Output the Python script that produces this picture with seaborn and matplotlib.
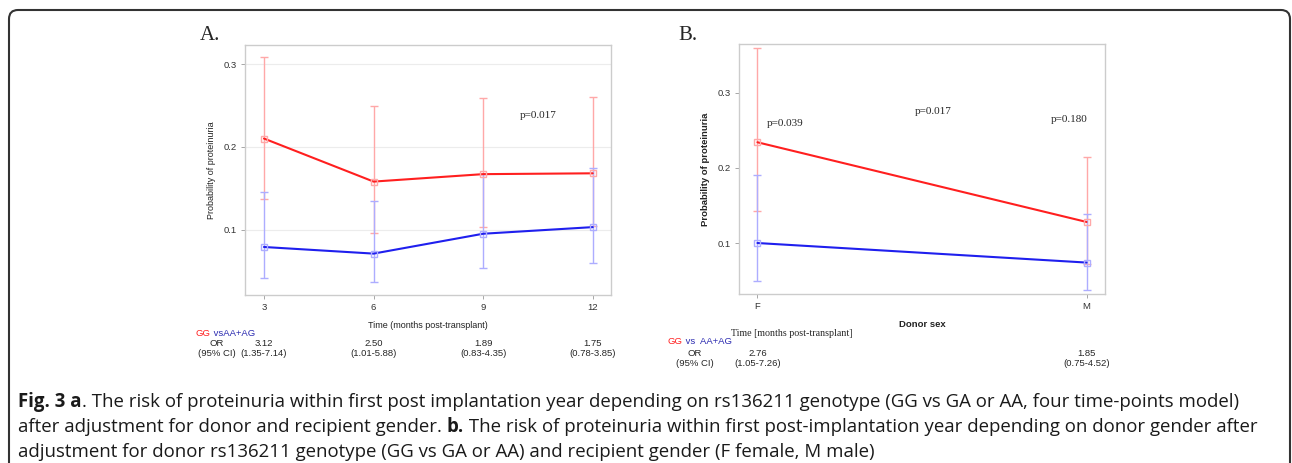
import matplotlib
matplotlib.use("Agg")
import matplotlib.pyplot as plt
import matplotlib.transforms as mtransforms
from matplotlib.patches import FancyBboxPatch
import numpy as np
import pandas as pd
import seaborn as sns

# Panel A: time points
months = [3, 6, 9, 12]
gg_a = [0.210, 0.158, 0.167, 0.168]
gg_a_lo = [0.137, 0.096, 0.103, 0.104]
gg_a_hi = [0.308, 0.249, 0.259, 0.260]
ag_a = [0.079, 0.071, 0.095, 0.103]
ag_a_lo = [0.042, 0.037, 0.054, 0.060]
ag_a_hi = [0.145, 0.134, 0.167, 0.175]
or_a = ["3.12", "2.50", "1.89", "1.75"]
ci_a = ["(1.35-7.14)", "(1.01-5.88)", "(0.83-4.35)", "(0.78-3.85)"]

# Panel B: donor sex
sex = ["F", "M"]
gg_b = [0.234, 0.128]
gg_b_lo = [0.143, 0.072]
gg_b_hi = [0.359, 0.215]
ag_b = [0.100, 0.074]
ag_b_lo = [0.050, 0.038]
ag_b_hi = [0.191, 0.138]
or_b = ["2.76", "1.85"]
ci_b = ["(1.05-7.26)", "(0.75-4.52)"]

cap_line1 = ". The risk of proteinuria within first post implantation year depending on rs136211 genotype (GG vs GA or AA, four time-points model)"
cap_line2a = "after adjustment for donor and recipient gender. "
cap_line2b = " The risk of proteinuria within first post-implantation year depending on donor gender after"
cap_line3 = "adjustment for donor rs136211 genotype (GG vs GA or AA) and recipient gender (F female, M male)"

RED = "#ff1f1f"
BLUE = "#1f1fee"
LRED = "#ffa8a8"
LBLUE = "#adadff"
NAVY = "#2a2ab0"

sns.set_theme(style="white")
plt.rcParams["font.family"] = ["Liberation Sans", "DejaVu Sans"]

W, H = 1292, 463
fig = plt.figure(figsize=(W / 100, H / 100), dpi=100)


def px(x, y):
    return x / W, 1 - y / H


def style_axes(ax, ylim, grid):
    ax.set_ylim(*ylim)
    ax.set_yticks([0.1, 0.2, 0.3])
    ax.set_yticklabels(["0.1", "0.2", "0.3"])
    for s in ax.spines.values():
        s.set_color("#cccccc")
        s.set_linewidth(1.0)
    ax.tick_params(axis="both", which="both", direction="out", length=3,
                   width=0.6, color="#999999", labelsize=6.8, labelcolor="#333333",
                   left=True, bottom=True, pad=3)
    if grid:
        ax.yaxis.grid(True, color="#ececec", linewidth=0.8)
        ax.set_axisbelow(True)
    ax.set_facecolor("white")


def draw_series(ax, x, mean, lo, hi, col, lcol):
    mean = np.array(mean)
    err = [mean - np.array(lo), np.array(hi) - mean]
    ax.errorbar(x, mean, yerr=err, fmt="none", ecolor=lcol, elinewidth=1.0,
                capsize=3, capthick=1.0, zorder=2)
    df = pd.DataFrame({"x": x, "y": mean})
    sns.lineplot(data=df, x="x", y="y", ax=ax, color=col, linewidth=1.5,
                 marker="s", markersize=4.5, markerfacecolor="none",
                 markeredgecolor=lcol, markeredgewidth=1.0, zorder=3)


def chain(parts, x, y, **kw):
    # place coloured pieces of text one after another
    r = fig.canvas.get_renderer()
    xx = x
    for s, kws in parts:
        t = fig.text(xx / W, 1 - y / H, s, **kw, **kws)
        xx = t.get_window_extent(r).x1
    return xx


# ---- Panel A
axA = fig.add_axes([245 / W, 1 - 295 / H, 366 / W, 250 / H])
draw_series(axA, months, gg_a, gg_a_lo, gg_a_hi, RED, LRED)
draw_series(axA, months, ag_a, ag_a_lo, ag_a_hi, BLUE, LBLUE)
style_axes(axA, (0.021, 0.323), True)
axA.set_xlim(2.48, 12.5)
axA.set_xticks(months)
axA.set_xticklabels([str(m) for m in months])
axA.set_xlabel("Time (months post-transplant)", fontsize=6.5, labelpad=6, color="#222222")
axA.set_ylabel("Probability of proteinuria", fontsize=6.5, labelpad=5, color="#222222")
axA.text(10.0, 0.238, "p=0.017", family="Liberation Serif", fontsize=8, ha="left", va="center")

# ---- Panel B
xb = np.arange(len(sex))
axB = fig.add_axes([739 / W, 1 - 294 / H, 366 / W, 250 / H])
draw_series(axB, xb, gg_b, gg_b_lo, gg_b_hi, RED, LRED)
draw_series(axB, xb, ag_b, ag_b_lo, ag_b_hi, BLUE, LBLUE)
style_axes(axB, (0.0322, 0.3647), False)
axB.set_xlim(-0.056, 1.056)
axB.set_xticks(xb)
axB.set_xticklabels(sex)
axB.set_xlabel("Donor sex", fontsize=6.8, fontweight="bold", labelpad=6, color="#222222")
axB.set_ylabel("Probability of proteinuria", fontsize=6.8, fontweight="bold", labelpad=5, color="#222222")
serif = dict(family="Liberation Serif", fontsize=8, ha="left", va="center")
axB.text(*px(767, 124), "p=0.039", transform=fig.transFigure, **serif)
axB.text(*px(915, 111), "p=0.017", transform=fig.transFigure, **serif)
axB.text(*px(1051, 120), "p=0.180", transform=fig.transFigure, **serif)

# panel letters
fig.text(*px(200, 36), "A.", family="Liberation Serif", fontsize=15, va="center")
fig.text(*px(678, 36), "B.", family="Liberation Serif", fontsize=15, va="center")

fig.canvas.draw()

# OR tables
fs = 6.8
chain([("GG", dict(color=RED)), (" vsAA+AG", dict(color=NAVY))], 196, 334, fontsize=fs, va="center")
fig.text(*px(217, 344), "OR", fontsize=fs, ha="center", va="center")
fig.text(*px(217, 354), "(95% CI)", fontsize=fs, ha="center", va="center")
trA = mtransforms.blended_transform_factory(axA.transData, fig.transFigure)
for m, o, c in zip(months, or_a, ci_a):
    axA.text(m, 1 - 344 / H, o, transform=trA, fontsize=fs, ha="center", va="center", clip_on=False)
    axA.text(m, 1 - 354 / H, c, transform=trA, fontsize=fs, ha="center", va="center", clip_on=False)

fig.text(*px(731, 333), "Time [months post-transplant]", family="Liberation Serif", fontsize=7.2, va="center")
chain([("GG", dict(color=RED)), (" vs  AA+AG", dict(color=NAVY))], 668, 342, fontsize=fs, va="center")
fig.text(*px(695, 353), "OR", fontsize=fs, ha="center", va="center")
fig.text(*px(695, 363), "(95% CI)", fontsize=fs, ha="center", va="center")
trB = mtransforms.blended_transform_factory(axB.transData, fig.transFigure)
for xv, o, c in zip(xb, or_b, ci_b):
    axB.text(xv, 1 - 353 / H, o, transform=trB, fontsize=fs, ha="center", va="center", clip_on=False)
    axB.text(xv, 1 - 363 / H, c, transform=trB, fontsize=fs, ha="center", va="center", clip_on=False)

# border
box = FancyBboxPatch((9, -30), 1281, 483, boxstyle="round,pad=0,rounding_size=9",
                     transform=mtransforms.IdentityTransform(), fill=False,
                     edgecolor="#333333", linewidth=1.5)
fig.add_artist(box)

# caption
cap = dict(family=["Open Sans", "DejaVu Sans"], fontsize=13.4, va="baseline", color="#1a1a1a")
chain([("Fig. 3 a", dict(fontweight="bold")), (cap_line1, {})], 18, 407, **cap)
chain([(cap_line2a, {}), ("b.", dict(fontweight="bold")), (cap_line2b, {})], 18, 432, **cap)
chain([(cap_line3, {})], 18, 457, **cap)

fig.savefig("out.png", dpi=100)
